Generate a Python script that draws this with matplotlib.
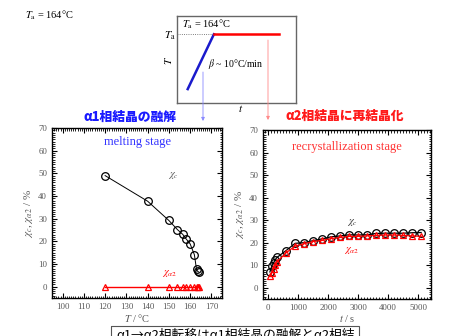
import matplotlib
matplotlib.use('Agg')
import matplotlib.pyplot as plt
from matplotlib.ticker import MultipleLocator

plt.rcParams['font.family'] = ['Liberation Serif', 'DejaVu Serif']
plt.rcParams['mathtext.fontset'] = 'stix'

W, H = 449, 336

# melting stage
T_melt = [120, 140, 150, 154, 156.5, 158, 160, 162, 163, 163.5, 164]
chi_c_melt = [49.0, 37.7, 29.2, 25.2, 23.1, 21.2, 18.9, 14.1, 7.7, 6.8, 6.5]
chi_a2_melt = [0, 0, 0, 0, 0, 0, 0, 0, 0, 0, 0]

# recrystallization stage
t_rec = [60, 120, 180, 240, 300, 600, 900, 1200, 1500, 1800, 2100, 2400, 2700,
         3000, 3300, 3600, 3900, 4200, 4500, 4800, 5100]
chi_c_rec = [7.0, 9.5, 11.0, 12.5, 13.5, 16.5, 19.7, 20.0, 20.9, 21.7, 22.6, 23.0,
             23.5, 23.4, 23.5, 24.1, 24.2, 24.2, 24.2, 24.4, 24.5]
chi_a2_rec = [5.0, 6.5, 8.5, 10.0, 11.5, 15.5, 18.5, 19.5, 20.5, 21.0, 21.8, 22.3,
              22.8, 22.8, 23.0, 23.2, 23.4, 23.4, 23.2, 23.0, 22.8]

# schematic temperature program (axes fraction)
prog_heat_x = [0.09, 0.31]
prog_heat_y = [0.16, 0.79]
prog_hold_x = [0.31, 0.86]
prog_hold_y = [0.79, 0.79]

fig = plt.figure(figsize=(W / 100, H / 100), dpi=100)


def frac(l, t, r, b):
    return [l / W, 1 - b / H, (r - l) / W, (b - t) / H]


def style(ax):
    ax.tick_params(which='both', direction='in', top=True, right=True,
                   labelsize=6.3, labelcolor='#555555', color='black')
    ax.tick_params(which='major', length=3.5, width=0.8)
    ax.tick_params(which='minor', length=1.8, width=0.6)
    for s in ax.spines.values():
        s.set_linewidth(1.0)
    ax.set_ylim(-5, 70)
    ax.yaxis.set_major_locator(MultipleLocator(10))
    ax.yaxis.set_minor_locator(MultipleLocator(1))
    ax.set_ylabel(r'$\chi_c$, $\chi_{\alpha 2}$ / %', fontsize=8, color='#555555', labelpad=2)


# left: melting
ax1 = fig.add_axes(frac(52, 128, 222, 298))
ax1.plot(T_melt, chi_c_melt, '-', color='black', lw=0.7)
ax1.plot(T_melt, chi_c_melt, 'o', mfc='none', mec='black', ms=5.5, mew=0.9)
ax1.plot(T_melt, chi_a2_melt, '-', color='red', lw=1.0)
ax1.plot(T_melt, chi_a2_melt, '^', mfc='none', mec='red', ms=5, mew=0.9)
ax1.set_xlim(95, 175)
ax1.xaxis.set_major_locator(MultipleLocator(10))
ax1.xaxis.set_minor_locator(MultipleLocator(1))
style(ax1)
ax1.set_xlabel(r'$T$ / °C', fontsize=7.5, color='#555555', labelpad=1)
ax1.text(0.5, 0.92, 'melting stage', transform=ax1.transAxes, ha='center', va='center',
         fontsize=9, color='#3333ff')
ax1.text(152, 49, r'$\chi_c$', fontsize=7.5, color='#555555', ha='center', va='center')
ax1.text(150.5, 6, r'$\chi_{\alpha 2}$', fontsize=7.5, color='red', ha='center', va='center')

# right: recrystallization
ax2 = fig.add_axes(frac(263, 130, 431, 299))
ax2.plot(t_rec, chi_c_rec, '-', color='black', lw=0.9)
ax2.plot(t_rec, chi_c_rec, 'o', mfc='none', mec='black', ms=5.5, mew=0.9)
ax2.plot(t_rec, chi_a2_rec, '-', color='red', lw=0.9)
ax2.plot(t_rec, chi_a2_rec, '^', mfc='none', mec='red', ms=5, mew=0.9)
ax2.set_xlim(-170, 5430)
ax2.xaxis.set_major_locator(MultipleLocator(1000))
ax2.xaxis.set_minor_locator(MultipleLocator(100))
style(ax2)
ax2.set_xlabel(r'$t$ / s', fontsize=7.5, color='#555555', labelpad=1)
ax2.text(0.5, 0.9, 'recrystallization stage', transform=ax2.transAxes, ha='center',
         va='center', fontsize=9, color='#ff3333')
ax2.text(2800, 29, r'$\chi_c$', fontsize=7.5, color='#333333', ha='center', va='center')
ax2.text(2800, 16.5, r'$\chi_{\alpha 2}$', fontsize=7.5, color='red', ha='center', va='center')

# inset: temperature program
ax3 = fig.add_axes(frac(177, 16, 296, 103))
ax3.set_xlim(0, 1)
ax3.set_ylim(0, 1)
ax3.set_xticks([])
ax3.set_yticks([])
for s in ax3.spines.values():
    s.set_color('#666666')
    s.set_linewidth(1.0)
ax3.plot([0, prog_heat_x[1]], [prog_heat_y[1], prog_heat_y[1]], ':', color='#555555', lw=0.6)
ax3.plot(prog_heat_x, prog_heat_y, '-', color='#1a1acc', lw=1.8)
ax3.plot(prog_hold_x, prog_hold_y, '-', color='red', lw=1.8)
ax3.text(0.04, 0.9, r'$T_{\rm a}$ = 164°C', transform=ax3.transAxes, fontsize=7.5,
         ha='left', va='center')
ax3.text(0.26, 0.45, r'$\beta$ ~ 10°C/min', transform=ax3.transAxes, fontsize=7,
         ha='left', va='center')

# overlay in pixel coordinates
ov = fig.add_axes([0, 0, 1, 1], facecolor='none')
ov.set_xlim(0, W)
ov.set_ylim(H, 0)
ov.axis('off')
ov.text(25, 15, r'$T_{\rm a}$ = 164°C', fontsize=7.5, ha='left', va='center')
ov.text(170, 36, r'$T_{\rm a}$', fontsize=8, ha='center', va='center')
ov.text(169, 60, r'$T$', fontsize=8, ha='center', va='center', rotation=90)
ov.text(241, 109, r'$t$', fontsize=8, ha='center', va='center')
ov.annotate('', xy=(203, 121), xytext=(203, 72),
            arrowprops=dict(arrowstyle='-|>', color='#8888ff', lw=0.6,
                            mutation_scale=5, shrinkA=0, shrinkB=0))
ov.annotate('', xy=(268, 120), xytext=(268, 40),
            arrowprops=dict(arrowstyle='-|>', color='#ff8888', lw=0.6,
                            mutation_scale=5, shrinkA=0, shrinkB=0))
ov.text(130, 117, 'α1相結晶の融解', fontsize=9.2, fontweight='heavy', color='#1a1aff',
        ha='center', va='center', family=['Noto Sans CJK JP', 'DejaVu Sans'])
ov.text(345, 116, 'α2相結晶に再結晶化', fontsize=9.2, fontweight='heavy', color='#ff1a1a',
        ha='center', va='center', family=['Noto Sans CJK JP', 'DejaVu Sans'])
ov.add_patch(plt.Rectangle((111, 326), 248, 20, fill=False, ec='#555555', lw=0.8))
ov.text(116, 328.5, 'α1→α2相転移はα1相結晶の融解とα2相結', fontsize=9.2, color='black',
        ha='left', va='top', family=['Noto Sans CJK JP', 'DejaVu Sans'])

fig.savefig('out.png', dpi=100)
